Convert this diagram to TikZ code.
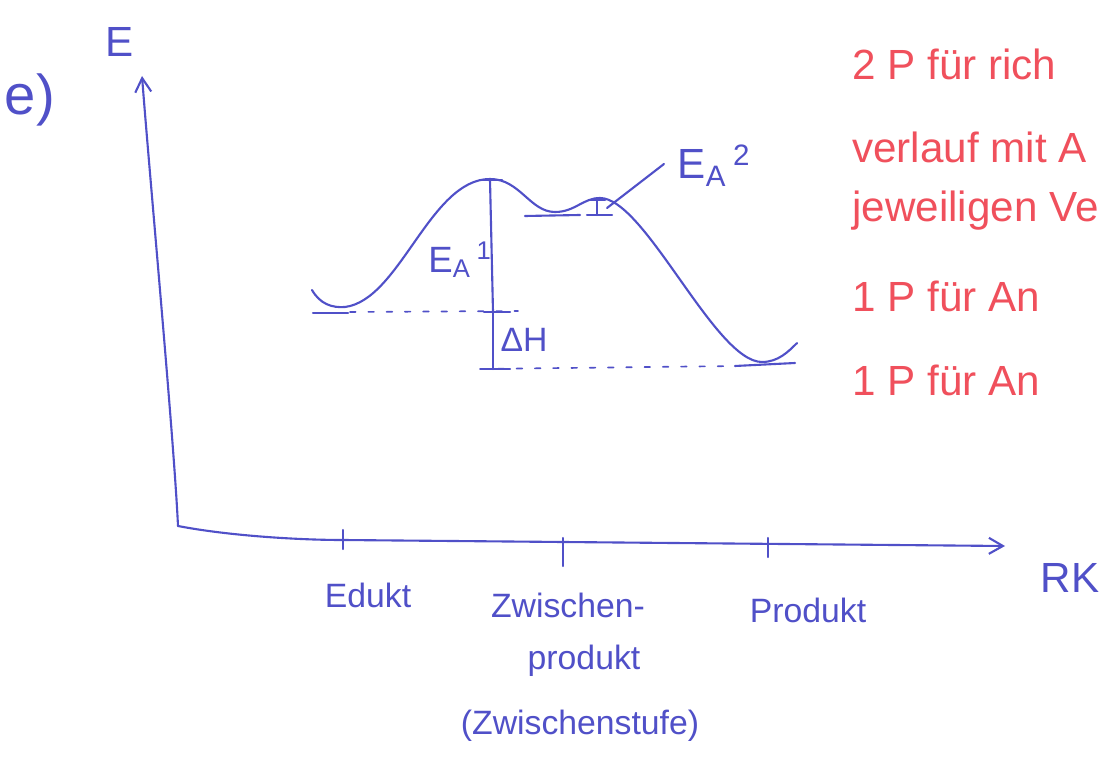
\documentclass[tikz,border=0pt]{standalone}
\usepackage{fontspec}
\setmainfont{Liberation Sans}
\usepackage{tikz}
\usetikzlibrary{positioning,arrows.meta}
\definecolor{PenBlue}{HTML}{5050C8}
\definecolor{PenRed}{HTML}{F0505C}
\begin{document}
\begin{tikzpicture}[
  x=0.025cm,y=-0.025cm,
  pen/.style={draw=PenBlue,line width=1.5pt,line cap=round,line join=round},
  axis/.style={pen,-{Straight Barb[length=3.5mm,width=4mm]}},
  level/.style={pen,line width=1.2pt,dash pattern=on 4pt off 9pt},
  lbl/.style={text=PenBlue,font=\fontsize{24}{28}\selectfont,inner sep=1pt},
  biglbl/.style={text=PenBlue,font=\fontsize{30}{34}\selectfont,inner sep=1pt},
  note/.style={text=PenRed,font=\fontsize{30}{34}\selectfont,anchor=base west,inner sep=0pt}
]
\clip (0,0) rectangle (1108,760);
\fill[white] (0,0) rectangle (1108,760);
\coordinate (orig) at (178,526);
\coordinate (ytip) at (142,76);
\coordinate (xtip) at (1005,546);
\coordinate (edmin) at (345,307);
\coordinate (ts1) at (490,179);
\coordinate (zpmin) at (555,212);
\coordinate (ts2) at (600,198);
\coordinate (prmin) at (762,362);
\coordinate (curvestart) at (312,290);
\coordinate (curveend) at (797,343);
\node[biglbl,font=\fontsize{40}{44}\selectfont] (part) at (30,100) {e)};
\node[biglbl] (ylabel) at (120,42) {E};
\node[biglbl] (xlabel) at (1070,578) {RK};
\draw[axis] (orig) .. controls (174,440) and (150,180) .. (ytip);
\draw[axis] (orig) .. controls (230,536) and (300,540) .. (343,540) -- (xtip);
\draw[pen] (343,530) -- (343,549);
\draw[pen] (563,538) -- (563,566);
\draw[pen] (768,538) -- (768,557);
\node[lbl] (edukt) at (368,595) {Edukt};
\node[lbl] (zw) at (568,605) {Zwischen-};
\node[lbl,below=6mm of zw,xshift=4mm] (zwprod) {produkt};
\node[lbl,below=7.5mm of zwprod,xshift=-1mm] (zwstufe) {(Zwischenstufe)};
\node[lbl] (produkt) at (808,610) {Produkt};
\draw[pen] (curvestart) .. controls (320,304) and (332,308) .. (edmin)
  .. controls (400,300) and (430,179) .. (ts1)
  .. controls (520,179) and (530,212) .. (zpmin)
  .. controls (575,212) and (583,198) .. (ts2)
  .. controls (645,198) and (715,362) .. (prmin)
  .. controls (778,362) and (788,352) .. (curveend);
\draw[pen] (313,313) -- (348,313);
\draw[level] (350,312) -- (518,311);
\draw[level] (480,369) -- (735,366);
\draw[pen] (735,366) -- (795,363);
\draw[pen] (525,216) -- (580,215);
\draw[pen] (587,215) -- (612,215);
\draw[pen] (590,200) -- (605,200);
\draw[pen] (597,200) -- (597,215);
\draw[pen] (480,180) -- (502,180);
\draw[pen] (490,180) -- (493,312);
\draw[pen] (484,312) -- (510,312);
\draw[pen] (493,312) -- (493,369);
\draw[pen] (485,369) -- (510,369);
\node[biglbl,font=\fontsize{26}{30}\selectfont] (ea1) at (460,260) {E\textsubscript{A}\,\textsuperscript{1}};
\node[lbl] (dh) at (524,340) {ΔH};
\node[biglbl] (ea2) at (714,166) {E\textsubscript{A}\,\textsuperscript{2}};
\coordinate (ea2foot) at (607,208);
\draw[pen] (ea2.west) ++(-12,-2) -- (ea2foot);
\node[note] (note1) at (852,80) {2 P für rich};
\node[note] (note2) at (852,163) {verlauf mit A};
\node[note] (note3) at (852,222) {jeweiligen Ve};
\node[note] (note4) at (852,312) {1 P für An};
\node[note] (note5) at (852,395) {1 P für An};
\end{tikzpicture}
\end{document}
